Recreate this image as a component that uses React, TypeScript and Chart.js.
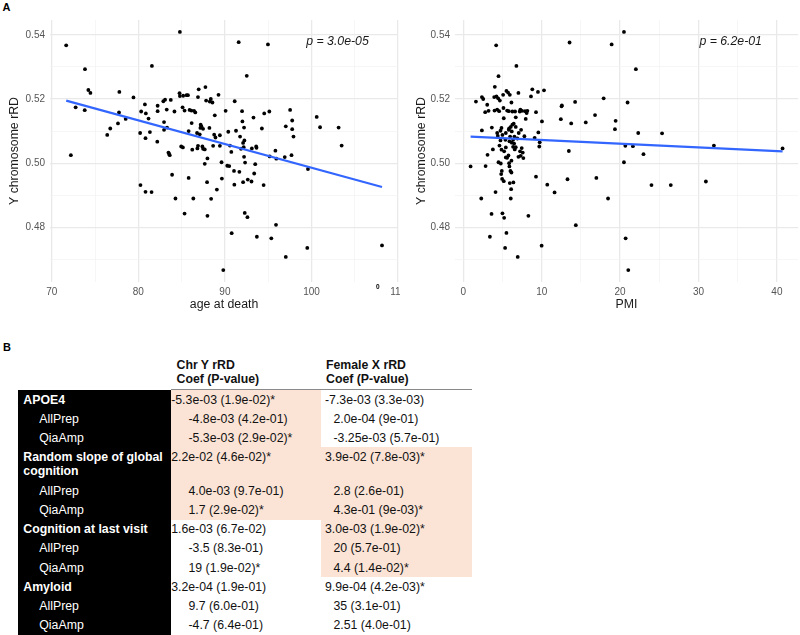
import React, { useEffect, useRef } from 'react';
import { Chart, registerables } from 'chart.js';

Chart.register(...registerables);

const FONT = "'Liberation Sans', Arial, Helvetica, sans-serif";

// ---------- Panel A: age at death ----------
const ageX = [
  71.67, 72.21, 72.76, 73.84, 73.81, 74.23, 74.47, 76.41, 76.76, 77.65, 77.77, 77.81, 78.54, 79.44, 80.21, 80.25,
  80.33, 80.76, 80.83, 80.87, 80.83, 81.18, 81.34, 81.53, 81.57, 82.19, 82.23, 82.23, 82.97, 82.97, 82.89, 83.09,
  83.28, 83.32, 83.48, 83.63, 83.55, 83.75, 83.9, 84.17, 84.29, 84.76, 84.8, 84.8, 84.95, 85.11, 85.15, 85.18,
  85.34, 85.34, 85.57, 85.73, 85.81, 85.81, 85.92, 86.12, 86.16, 86.23, 86.35, 86.43, 86.58, 86.78, 86.82, 86.89,
  86.89, 86.97, 87.09, 87.17, 87.2, 87.28, 87.4, 87.48, 87.48, 87.67, 87.75, 87.67, 87.83, 87.94, 87.98, 87.98,
  88.21, 88.25, 88.37, 88.41, 88.56, 88.64, 88.76, 88.83, 88.91, 89.07, 89.26, 89.42, 89.42, 89.61, 89.65, 89.81,
  90.08, 90.27, 90.39, 90.5, 90.58, 90.74, 90.78, 91.05, 91.09, 91.13, 91.28, 91.59, 91.67, 91.75, 91.86, 91.98,
  92.02, 92.1, 92.1, 92.17, 92.21, 92.25, 92.21, 92.29, 92.33, 92.52, 92.6, 92.64, 93.07, 93.11, 93.3, 93.38,
  93.5, 93.61, 93.65, 93.69, 94.27, 94.47, 94.54, 94.97, 95.13, 95.17, 95.36, 95.83, 95.9, 95.94, 96.91, 97.03,
  97.03, 97.53, 97.69, 97.77, 97.77, 97.92, 99.59, 99.51, 100.6, 100.99, 103.13, 103.48, 108.14,
];
const ageY = [
  0.5367, 0.5025, 0.5174, 0.5293, 0.5165, 0.5228, 0.5219, 0.5088, 0.5108, 0.5124, 0.5158, 0.5222, 0.5138, 0.5205, 0.5094, 0.4932,
  0.5161, 0.5183, 0.5078, 0.5155, 0.4911, 0.5139, 0.5097, 0.491, 0.5303, 0.5067, 0.5162, 0.5179, 0.5128, 0.5104, 0.5193, 0.5198,
  0.5167, 0.5111, 0.5033, 0.5025, 0.5029, 0.5197, 0.4964, 0.5161, 0.489, 0.5218, 0.5409, 0.5209, 0.5052, 0.5174, 0.5049, 0.521,
  0.5164, 0.4843, 0.5212, 0.5212, 0.51, 0.4954, 0.5166, 0.5164, 0.5125, 0.5042, 0.489, 0.5163, 0.5158, 0.5094, 0.5046, 0.5054,
  0.5206, 0.523, 0.509, 0.511, 0.512, 0.5115, 0.5052, 0.5107, 0.5045, 0.5043, 0.5237, 0.4998, 0.5195, 0.4941, 0.4836, 0.5015,
  0.511, 0.5192, 0.52, 0.4889, 0.5189, 0.5054, 0.5089, 0.5149, 0.508, 0.4918, 0.5213, 0.5087, 0.5054, 0.5003, 0.4952, 0.4667,
  0.5163, 0.4992, 0.5098, 0.4991, 0.5055, 0.5035, 0.4782, 0.4976, 0.4933, 0.5193, 0.5101, 0.5377, 0.4973, 0.5083, 0.5045, 0.5162,
  0.513, 0.4941, 0.5063, 0.505, 0.5111, 0.5071, 0.502, 0.4845, 0.5002, 0.5272, 0.4832, 0.4949, 0.4943, 0.5046, 0.5142, 0.4968,
  0.4997, 0.5052, 0.5048, 0.4771, 0.5108, 0.4932, 0.5155, 0.537, 0.5161, 0.5021, 0.4766, 0.5039, 0.4808, 0.5014, 0.5019, 0.5115,
  0.4708, 0.5166, 0.5025, 0.5133, 0.5106, 0.5083, 0.4982, 0.4736, 0.5144, 0.5112, 0.5111, 0.5055, 0.4744,
];
const ageFitX = [71.67, 108.14];
const ageFitY = [0.5195, 0.4926];
const ageTicks = [70, 75, 80, 85, 90, 95, 100, 105, 110];
const ageTickLabels = ['70', '', '80', '', '90', '', '100', '', '110'];
const ageRange = [69.8, 110.0];

// ---------- Panel A: PMI ----------
const pmiX = [
  0.93, 1.61, 2.29, 2.37, 2.37, 2.54, 2.84, 2.79, 3.05, 3.09, 3.22, 3.39, 3.6, 3.64, 3.77, 3.94,
  4.02, 4.11, 4.19, 4.23, 4.32, 4.32, 4.4, 4.49, 4.44, 4.57, 4.49, 4.61, 4.66, 4.74, 4.78, 4.83,
  4.87, 4.91, 4.95, 4.99, 4.99, 5.08, 5.12, 5.16, 5.21, 5.16, 5.21, 5.33, 5.42, 5.42, 5.5, 5.5,
  5.59, 5.59, 5.71, 5.76, 5.8, 5.8, 5.84, 5.84, 5.88, 5.93, 5.93, 5.97, 6.01, 6.05, 6.05, 6.1,
  6.14, 6.14, 6.18, 6.26, 6.26, 6.35, 6.39, 6.43, 6.48, 6.52, 6.56, 6.6, 6.69, 6.69, 6.77, 6.94,
  6.9, 7.03, 7.03, 7.2, 7.24, 7.28, 7.32, 7.37, 7.45, 7.49, 7.58, 7.66, 7.79, 7.87, 7.96, 8.08,
  8.17, 8.3, 8.63, 8.8, 9.1, 9.27, 9.27, 9.52, 9.57, 9.69, 9.74, 10.03, 9.99, 10.29, 10.71, 11.64,
  12.44, 12.53, 12.57, 13.29, 13.46, 13.55, 13.76, 14.26, 14.35, 15.62, 16.8, 16.97, 17.9, 18.46, 18.92, 19.34,
  19.43, 20.49, 20.49, 20.66, 20.7, 20.95, 21.04, 21.63, 22.01, 22.31, 22.98, 24.0, 25.35, 26.46, 30.94, 31.96,
  40.72, 3.98, 5.37, 5.88, 6.35, 7.07, 4.74, 6.14, 5.42, 6.18, 6.69, 4.87,
];
const pmiY = [
  0.499, 0.5192, 0.489, 0.5102, 0.5206, 0.52, 0.4991, 0.5159, 0.5182, 0.5026, 0.5163, 0.4771, 0.4842, 0.5111, 0.5043, 0.5206,
  0.5238, 0.491, 0.5367, 0.5208, 0.5167, 0.5094, 0.5085, 0.5271, 0.5202, 0.5162, 0.5003, 0.5055, 0.5195, 0.5101, 0.4999, 0.4966,
  0.511, 0.4976, 0.4951, 0.4844, 0.5088, 0.5213, 0.5172, 0.4944, 0.483, 0.514, 0.5037, 0.4736, 0.5049, 0.5018, 0.4783, 0.5225,
  0.5164, 0.5017, 0.522, 0.5024, 0.5104, 0.5162, 0.5, 0.5108, 0.499, 0.5213, 0.4938, 0.5083, 0.4976, 0.5113, 0.489, 0.4919,
  0.5189, 0.4971, 0.5064, 0.5161, 0.512, 0.5051, 0.494, 0.5123, 0.5061, 0.5083, 0.5043, 0.5161, 0.5143, 0.5113, 0.5303, 0.4708,
  0.5077, 0.5219, 0.502, 0.5161, 0.5037, 0.5167, 0.5023, 0.5104, 0.5047, 0.5163, 0.5033, 0.5016, 0.5084, 0.5162, 0.5138, 0.5156,
  0.5163, 0.4836, 0.5208, 0.523, 0.5079, 0.5159, 0.4958, 0.5222, 0.5096, 0.5052, 0.5065, 0.513, 0.4743, 0.5227, 0.4933, 0.4909,
  0.5137, 0.5177, 0.518, 0.495, 0.5038, 0.5376, 0.5124, 0.5191, 0.4807, 0.5127, 0.515, 0.4954, 0.5202, 0.489, 0.537, 0.5106,
  0.5132, 0.5409, 0.5003, 0.5054, 0.4766, 0.5189, 0.4667, 0.5053, 0.5293, 0.5094, 0.5028, 0.4932, 0.5093, 0.4932, 0.4943, 0.5055,
  0.5046, 0.5164, 0.5073, 0.5068, 0.5073, 0.5094, 0.5071, 0.5008, 0.5094, 0.5099, 0.505, 0.5042,
];
const pmiFitX = [0.93, 40.72];
const pmiFitY = [0.5083, 0.5037];
const pmiTicks = [0, 5, 10, 15, 20, 25, 30, 35, 40];
const pmiTickLabels = ['0', '', '10', '', '20', '', '30', '', '40'];
const pmiRange = [-1.06, 42.7];

const yTicks = [0.47, 0.48, 0.49, 0.5, 0.51, 0.52, 0.53, 0.54];
const yTickLabels = ['', '0.48', '', '0.50', '', '0.52', '', '0.54'];
const yRange = [0.463, 0.5446];
const yTitle = 'Y chromosome rRD';

const pLabels = ['p = 3.0e-05', 'p = 6.2e-01'];
const pLabelAge = [103.0, 0.5379];
const pLabelPmi = [34.1, 0.5379];

// ---------- Panel B: table ----------
const colHeads = ['Chr Y rRD', 'Female X rRD'];
const colSubHead = 'Coef (P-value)';
const rowLabels = [
  'APOE4', 'AllPrep', 'QiaAmp',
  'Random slope of global\ncognition', 'AllPrep', 'QiaAmp',
  'Cognition at last visit', 'AllPrep', 'QiaAmp',
  'Amyloid', 'AllPrep', 'QiaAmp',
];
const rowIsSub = [false, true, true, false, true, true, false, true, true, false, true, true];
const chrYValues = [
  '-5.3e-03 (1.9e-02)*', '-4.8e-03 (4.2e-01)', '-5.3e-03 (2.9e-02)*',
  '2.2e-02 (4.6e-02)*', '4.0e-03 (9.7e-01)', '1.7 (2.9e-02)*',
  '1.6e-03 (6.7e-02)', '-3.5 (8.3e-01)', '19 (1.9e-02)*',
  '3.2e-04 (1.9e-01)', '9.7 (6.0e-01)', '-4.7 (6.4e-01)',
];
const femXValues = [
  '-7.3e-03 (3.3e-03)', '2.0e-04 (9e-01)', '-3.25e-03 (5.7e-01)',
  '3.9e-02 (7.8e-03)*', '2.8 (2.6e-01)', '4.3e-01 (9e-03)*',
  '3.0e-03 (1.9e-02)*', '20 (5.7e-01)', '4.4 (1.4e-02)*',
  '9.9e-04 (4.2e-03)*', '35 (3.1e-01)', '2.51 (4.0e-01)',
];
const chrYShaded = [true, true, true, true, true, true, false, false, false, false, false, false];
const femXShaded = [false, false, false, true, true, true, true, true, true, false, false, false];

const near = (a: number, b: number) => Math.abs(a - b) < 1e-6;

type PanelProps = {
  left: number;
  xs: number[];
  ys: number[];
  fitX: number[];
  fitY: number[];
  xTicks: number[];
  xTickLabels: string[];
  xRange: number[];
  xTitle: string;
  pText: string;
  pAt: number[];
  padLeft: number;
  yWidth: number;
};

const W = 400;
const H = 316;
const AREA_BOTTOM = 282;

function ScatterPanel(props: PanelProps) {
  const ref = useRef<HTMLCanvasElement | null>(null);
  useEffect(() => {
    if (!ref.current) return;
    const { xs, ys, fitX, fitY, xTicks, xTickLabels, xRange, xTitle, pText, pAt, padLeft, yWidth } = props;
    const xMajor = xTicks.filter((_, i) => xTickLabels[i] !== '');
    const yMajor = yTicks.filter((_, i) => yTickLabels[i] !== '');
    const gridWidth = (major: number[]) => (ctx: any) => {
      const v = ctx.tick ? ctx.tick.value : 0;
      return major.some((m) => near(m, v)) ? 1.3 : 0.7;
    };
    const gridColor = (major: number[]) => (ctx: any) => {
      const v = ctx.tick ? ctx.tick.value : 0;
      return major.some((m) => near(m, v)) ? '#e9e9e9' : '#f2f2f2';
    };
    const pPlugin = {
      id: 'pLabel',
      afterDatasetsDraw(chart: any) {
        const c = chart.ctx;
        c.save();
        c.font = `italic 12.3px ${FONT}`;
        c.fillStyle = '#1a1a1a';
        c.textAlign = 'center';
        c.textBaseline = 'middle';
        c.fillText(pText, chart.scales.x.getPixelForValue(pAt[0]), chart.scales.y.getPixelForValue(pAt[1]));
        c.restore();
      },
    };
    const chart = new Chart(ref.current, {
      type: 'scatter',
      data: {
        datasets: [
          {
            type: 'line',
            data: fitX.map((x, i) => ({ x, y: fitY[i] })),
            borderColor: '#3366FF',
            borderWidth: 2.2,
            pointRadius: 0,
            fill: false,
            order: 0,
          } as any,
          {
            type: 'scatter',
            data: xs.map((x, i) => ({ x, y: ys[i] })),
            backgroundColor: '#000000',
            borderWidth: 0,
            pointRadius: 1.9,
            pointHoverRadius: 1.9,
            order: 1,
          },
        ],
      },
      options: {
        animation: false,
        responsive: false,
        maintainAspectRatio: false,
        events: [],
        layout: { padding: { left: padLeft, right: 0, top: 20, bottom: 0 } },
        plugins: { legend: { display: false }, tooltip: { enabled: false } },
        scales: {
          x: {
            type: 'linear',
            min: xRange[0],
            max: xRange[1],
            border: { display: false },
            grid: { drawTicks: false, color: gridColor(xMajor), lineWidth: gridWidth(xMajor) },
            ticks: {
              padding: 4,
              color: '#555555',
              font: { size: 10, family: FONT },
              autoSkip: false,
              maxRotation: 0,
              callback: (_v: any, i: number) => xTickLabels[i],
            },
            title: {
              display: true,
              text: xTitle,
              color: '#1a1a1a',
              font: { size: 12.3, family: FONT },
              padding: { top: 0, bottom: 4 },
            },
            afterBuildTicks: (s: any) => {
              s.ticks = xTicks.map((v) => ({ value: v }));
            },
            afterFit: (s: any) => {
              s.height = H - AREA_BOTTOM;
              s.paddingLeft = 0;
              s.paddingRight = 0;
            },
          },
          y: {
            type: 'linear',
            min: yRange[0],
            max: yRange[1],
            border: { display: false },
            grid: { drawTicks: false, color: gridColor(yMajor), lineWidth: gridWidth(yMajor) },
            ticks: {
              padding: 5,
              color: '#555555',
              font: { size: 10, family: FONT },
              autoSkip: false,
              callback: (_v: any, i: number) => yTickLabels[i],
            },
            title: {
              display: true,
              text: yTitle,
              color: '#1a1a1a',
              font: { size: 12.3, family: FONT },
              padding: { top: 4, bottom: 0 },
            },
            afterBuildTicks: (s: any) => {
              s.ticks = yTicks.map((v) => ({ value: v }));
            },
            afterFit: (s: any) => {
              s.width = yWidth;
              s.paddingTop = 0;
              s.paddingBottom = 0;
            },
          },
        },
      } as any,
      plugins: [pPlugin],
    });
    return () => chart.destroy();
  }, []);
  return (
    <canvas
      ref={ref}
      width={W}
      height={H}
      style={{ position: 'absolute', left: props.left, top: 0, width: W, height: H }}
    />
  );
}

function ResultsTable() {
  const tops: number[] = [];
  let t = 390;
  rowLabels.forEach((lab) => {
    tops.push(t);
    t += lab.includes('\n') ? 33.5 : 19.15;
  });
  const textBase: React.CSSProperties = {
    position: 'absolute',
    fontSize: '12.3px',
    lineHeight: '14px',
    whiteSpace: 'pre',
    fontFamily: FONT,
  };
  const els: React.ReactNode[] = [];
  // shaded cells
  rowLabels.forEach((lab, i) => {
    const h = (i + 1 < tops.length ? tops[i + 1] : t) - tops[i];
    if (chrYShaded[i])
      els.push(<div key={'s2' + i} style={{ position: 'absolute', left: 171, top: tops[i], width: 149.5, height: h + 0.5, background: '#fbe4d6' }} />);
    if (femXShaded[i])
      els.push(<div key={'s3' + i} style={{ position: 'absolute', left: 320.5, top: tops[i], width: 151.5, height: h + 0.5, background: '#fbe4d6' }} />);
  });
  // black label column
  els.push(<div key="blk" style={{ position: 'absolute', left: 17.5, top: 389.5, width: 153.5, height: 246, background: '#000' }} />);
  // header rule
  els.push(<div key="rule" style={{ position: 'absolute', left: 171, top: 388.5, width: 301, height: 1, background: '#8a8a8a' }} />);
  // headers
  colHeads.forEach((h, j) => {
    const x = j === 0 ? 176.5 : 326;
    els.push(<div key={'h' + j} style={{ ...textBase, left: x, top: 358, fontWeight: 'bold', color: '#111' }}>{h}</div>);
    els.push(<div key={'hs' + j} style={{ ...textBase, left: x, top: 372.3, fontWeight: 'bold', color: '#111' }}>{colSubHead}</div>);
  });
  rowLabels.forEach((lab, i) => {
    const sub = rowIsSub[i];
    els.push(
      <div key={'l' + i} style={{ ...textBase, left: sub ? 39.3 : 23.3, top: tops[i] + 3, color: '#fff', fontWeight: sub ? 'normal' : 'bold' }}>{lab}</div>
    );
    els.push(
      <div key={'a' + i} style={{ ...textBase, left: sub ? 188.5 : 171.2, top: tops[i] + 3, color: '#111' }}>{chrYValues[i]}</div>
    );
    els.push(
      <div key={'b' + i} style={{ ...textBase, left: sub ? 333.5 : 325, top: tops[i] + 3, color: '#111' }}>{femXValues[i]}</div>
    );
  });
  return <>{els}</>;
}

export default function App() {
  const label: React.CSSProperties = {
    position: 'absolute',
    fontFamily: FONT,
    fontWeight: 'bold',
    fontSize: '11px',
    lineHeight: '13px',
    color: '#000',
  };
  return (
    <div
      style={{
        position: 'fixed',
        left: 0,
        top: 0,
        width: 800,
        height: 635,
        background: '#ffffff',
        overflow: 'hidden',
        fontFamily: FONT,
      }}
    >
      <div style={{ ...label, left: 2.5, top: 1 }}>A</div>
      <ScatterPanel
        left={0}
        xs={ageX}
        ys={ageY}
        fitX={ageFitX}
        fitY={ageFitY}
        xTicks={ageTicks}
        xTickLabels={ageTickLabels}
        xRange={ageRange}
        xTitle="age at death"
        pText={pLabels[0]}
        pAt={pLabelAge}
        padLeft={3.5}
        yWidth={46.5}
      />
      <ScatterPanel
        left={400}
        xs={pmiX}
        ys={pmiY}
        fitX={pmiFitX}
        fitY={pmiFitY}
        xTicks={pmiTicks}
        xTickLabels={pmiTickLabels}
        xRange={pmiRange}
        xTitle="PMI"
        pText={pLabels[1]}
        pAt={pLabelPmi}
        padLeft={10}
        yWidth={45}
      />
      <div style={{ ...label, left: 376, top: 283, fontSize: '6.5px', lineHeight: '8px' }}>0</div>
      <div style={{ ...label, left: 3, top: 340.5 }}>B</div>
      <ResultsTable />
    </div>
  );
}
